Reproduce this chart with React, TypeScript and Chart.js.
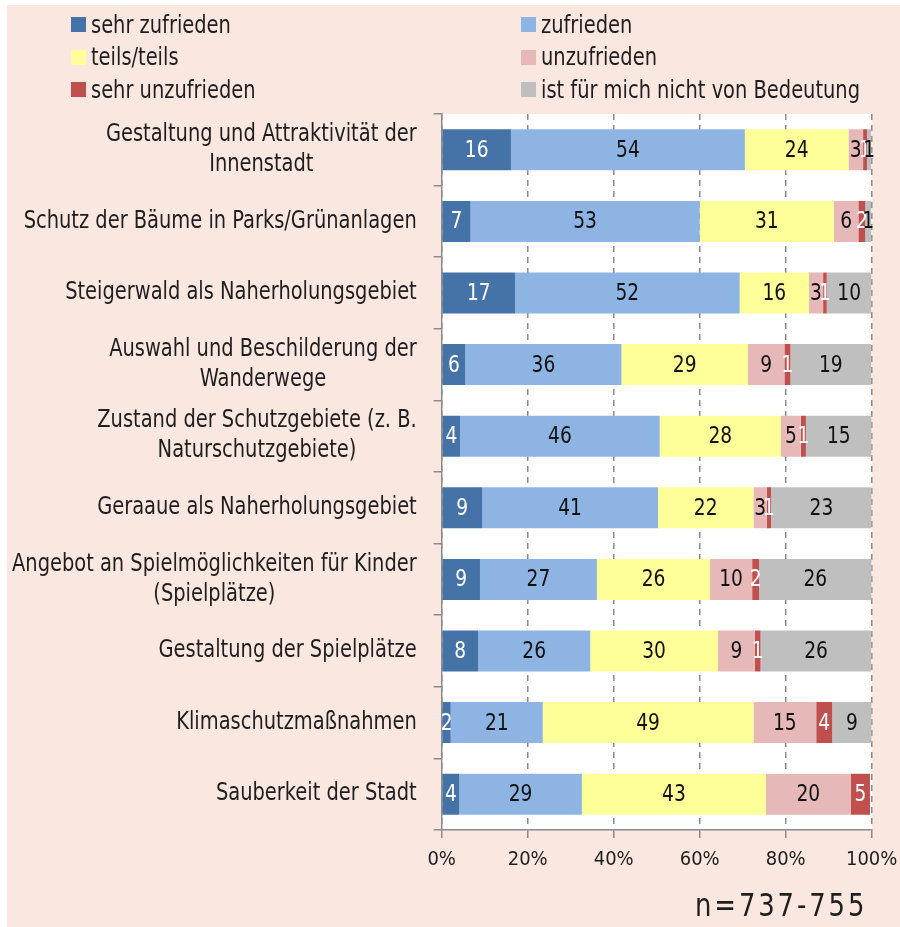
import React, { useEffect, useRef } from "react";
import { Chart, registerables } from "chart.js";

Chart.register(...registerables);

const FONT = "'DejaVu Sans Condensed', 'DejaVu Sans', sans-serif";
const TEXT_COLOR = "#1e1e1e";
const NARROW = 0.9;

const categories: (string | string[])[] = [
  ["Gestaltung und Attraktivität der", "Innenstadt"],
  "Schutz der Bäume in Parks/Grünanlagen",
  "Steigerwald als Naherholungsgebiet",
  ["Auswahl und Beschilderung der", "Wanderwege"],
  ["Zustand der Schutzgebiete (z. B.", "Naturschutzgebiete)"],
  "Geraaue als Naherholungsgebiet",
  ["Angebot an Spielmöglichkeiten für Kinder", "(Spielplätze)"],
  "Gestaltung der Spielplätze",
  "Klimaschutzmaßnahmen",
  "Sauberkeit der Stadt",
];

const seriesNames = [
  "sehr zufrieden",
  "zufrieden",
  "teils/teils",
  "unzufrieden",
  "sehr unzufrieden",
  "ist für mich nicht von Bedeutung",
];

const seriesColors = ["#4573A7", "#8EB4E3", "#FFFF99", "#E6B9B8", "#C0504D", "#BFBFBF"];
const labelColors = ["#ffffff", "#111111", "#111111", "#111111", "#ffffff", "#111111"];

const sehrZufrieden = [16.1, 6.7, 17.05, 5.5, 4.3, 9.4, 8.9, 8.45, 2.1, 4.1];
const zufrieden = [54.4, 53.3, 52.25, 36.3, 46.4, 40.9, 27.2, 26.1, 21.4, 28.5];
const teilsTeils = [24.1, 31.2, 16.1, 29.4, 28.2, 22.2, 26.3, 29.7, 49.0, 42.8];
const unzufrieden = [3.4, 5.7, 3.3, 8.5, 4.6, 3.1, 9.8, 8.6, 14.6, 19.7];
const sehrUnzufrieden = [0.9, 1.6, 0.85, 1.4, 1.2, 1.0, 1.6, 1.3, 3.7, 4.5];
const nichtVonBedeutung = [1.0, 1.4, 10.4, 18.8, 15.3, 23.4, 26.2, 25.8, 9.2, 0];

const seriesValues = [sehrZufrieden, zufrieden, teilsTeils, unzufrieden, sehrUnzufrieden, nichtVonBedeutung];

const xTicks = [0, 20, 40, 60, 80, 100];
const sampleNote = "n=737-755";

const PEACH = "#FAE7E0";
const GRID = "#8a8a8a";

const chartBackground = {
  id: "chartBackground",
  beforeDraw(chart: any) {
    const { ctx, chartArea } = chart;
    ctx.save();
    ctx.fillStyle = "#ffffff";
    ctx.fillRect(chartArea.left, chartArea.top, chartArea.right - chartArea.left, chartArea.bottom - chartArea.top);
    ctx.restore();
  },
};

function narrowText(ctx: CanvasRenderingContext2D, text: string, x: number, y: number) {
  ctx.save();
  ctx.translate(x, y);
  ctx.scale(NARROW, 1);
  ctx.fillText(text, 0, 0);
  ctx.restore();
}

const categoryLabels = {
  id: "categoryLabels",
  afterDraw(chart: any) {
    const { ctx } = chart;
    const yScale = chart.scales.y;
    const rightEdge = yScale.right - 25;
    const lineH = 30;
    ctx.save();
    ctx.font = `24px ${FONT}`;
    ctx.fillStyle = TEXT_COLOR;
    ctx.textAlign = "center";
    ctx.textBaseline = "middle";
    categories.forEach((cat, i) => {
      const lines = Array.isArray(cat) ? cat : [cat];
      const maxW = Math.max(...lines.map((l) => ctx.measureText(l).width)) * NARROW;
      const cx = rightEdge - maxW / 2;
      const cy = yScale.getPixelForValue(i);
      const startY = cy - ((lines.length - 1) * lineH) / 2;
      lines.forEach((l, j) => narrowText(ctx, l, cx, startY + j * lineH));
    });
    ctx.restore();
  },
};

const valueLabels = {
  id: "valueLabels",
  afterDatasetsDraw(chart: any) {
    const { ctx } = chart;
    ctx.save();
    ctx.font = `23px ${FONT}`;
    ctx.textAlign = "center";
    ctx.textBaseline = "middle";
    chart.data.datasets.forEach((ds: any, di: number) => {
      const meta = chart.getDatasetMeta(di);
      meta.data.forEach((bar: any, i: number) => {
        const v = ds.data[i];
        if (!v) return;
        const { x, y, base } = bar.getProps(["x", "y", "base"], true);
        ctx.fillStyle = labelColors[di];
        narrowText(ctx, String(Math.round(v)), (x + base) / 2, y + 1);
      });
    });
    ctx.restore();
  },
};

export default function App() {
  const canvasRef = useRef<HTMLCanvasElement | null>(null);

  useEffect(() => {
    if (!canvasRef.current) return;
    const chart = new Chart(canvasRef.current, {
      type: "bar",
      data: {
        labels: categories as any,
        datasets: seriesNames.map((name, i) => ({
          label: name,
          data: seriesValues[i],
          backgroundColor: seriesColors[i],
          borderWidth: 0,
          barPercentage: 0.573,
          categoryPercentage: 1,
        })),
      },
      options: {
        indexAxis: "y",
        responsive: false,
        animation: false,
        layout: { padding: { top: 114, right: 28.3, left: 0, bottom: 0 } },
        plugins: {
          legend: { display: false },
          tooltip: { enabled: false },
        },
        scales: {
          x: {
            stacked: true,
            min: 0,
            max: 100,
            position: "bottom",
            afterBuildTicks: (scale: any) => {
              scale.ticks = xTicks.map((v) => ({ value: v }));
            },
            ticks: {
              callback: (v: any) => `${v}%`,
              color: TEXT_COLOR,
              font: { family: FONT, size: 20 },
              padding: 10,
              maxRotation: 0,
              autoSkip: false,
            },
            grid: {
              color: GRID,
              lineWidth: 1.5,
              drawTicks: true,
              tickLength: 8,
              tickColor: GRID,
              tickWidth: 1.5,
              tickBorderDash: [],
            } as any,
            border: { display: true, color: GRID, width: 1.5, dash: [6, 5] },
            afterFit: (scale: any) => {
              scale.height = 97;
              scale.paddingLeft = 0;
              scale.paddingRight = 0;
            },
          },
          y: {
            stacked: true,
            ticks: { display: false },
            grid: {
              offset: true,
              drawOnChartArea: false,
              drawTicks: true,
              tickLength: 8,
              color: GRID,
              lineWidth: 1.5,
            },
            border: { display: true, color: GRID, width: 1.5 },
            afterFit: (scale: any) => {
              scale.width = 441.7;
              scale.paddingTop = 0;
              scale.paddingBottom = 0;
            },
          },
        },
      },
      plugins: [chartBackground, valueLabels, categoryLabels],
    });
    return () => chart.destroy();
  }, []);

  const legendPos = [
    { x: 71, y: 24.5 },
    { x: 521, y: 24.5 },
    { x: 71, y: 57 },
    { x: 521, y: 57 },
    { x: 71, y: 89.5 },
    { x: 521, y: 89.5 },
  ];

  return (
    <div style={{ position: "fixed", left: 0, top: 0, width: 900, height: 927, background: "#ffffff", overflow: "hidden" }}>
      <div style={{ position: "absolute", left: 7, top: 5, width: 893, height: 922, background: PEACH }} />
      <canvas ref={canvasRef} width={900} height={927} style={{ position: "absolute", left: 0, top: 0, width: 900, height: 927 }} />
      {seriesNames.map((name, i) => (
        <div
          key={name}
          style={{
            position: "absolute",
            left: legendPos[i].x,
            top: legendPos[i].y - 15,
            height: 30,
            display: "flex",
            alignItems: "center",
            fontFamily: FONT,
            fontSize: 24,
            color: TEXT_COLOR,
            whiteSpace: "nowrap",
          }}
        >
          <span style={{ display: "inline-block", width: 15, height: 15, background: seriesColors[i], marginRight: 5 }} />
          <span style={{ display: "inline-block", transform: `scaleX(${NARROW})`, transformOrigin: "left center" }}>{name}</span>
        </div>
      ))}
      <div
        style={{
          position: "absolute",
          left: 695,
          top: 885,
          height: 40,
          lineHeight: "40px",
          fontFamily: FONT,
          fontSize: 32,
          letterSpacing: 3.2,
          color: TEXT_COLOR,
          whiteSpace: "nowrap",
          transform: `scaleX(${NARROW})`,
          transformOrigin: "left center",
        }}
      >
        {sampleNote}
      </div>
    </div>
  );
}
